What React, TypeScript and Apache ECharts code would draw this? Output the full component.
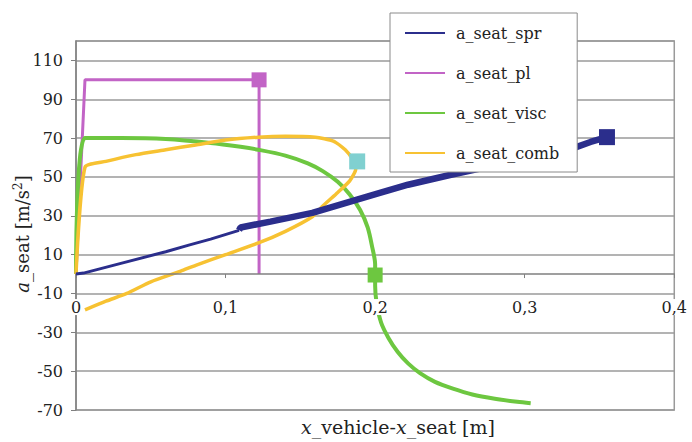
import React, { useEffect, useRef } from "react";
import * as echarts from "echarts";

const xTicks = [0, 0.1, 0.2, 0.3, 0.4];
const yTickLabels = [-70, -50, -30, -10, 10, 30, 50, 70, 90, 110];
const yMin = -70;
const yMax = 120;

const seriesNames = ["a_seat_spr", "a_seat_pl", "a_seat_visc", "a_seat_comb"];

const sprThin: [number, number][] = [
  [0, 0], [0.005, 0.5], [0.03, 5.5], [0.06, 11.5], [0.076, 15], [0.09, 18], [0.109, 22.5],
];
const sprThick: [number, number][] = [
  [0.109, 22.5], [0.11, 24], [0.13, 27], [0.158, 31.5], [0.18, 36.5], [0.202, 41.5],
  [0.222, 46], [0.25, 51], [0.28, 56], [0.31, 61], [0.333, 65], [0.344, 68], [0.355, 70.5],
];
const plData: [number, number][] = [
  [0, 0], [0.006, 100], [0.1224, 100], [0.1224, 0],
];
const viscData: [number, number][] = [
  [0, 0], [0.006, 70], [0.03, 70], [0.06, 69.5], [0.09, 67.5], [0.11, 65.5], [0.122, 64],
  [0.14, 61], [0.155, 57], [0.165, 53], [0.175, 47.5], [0.183, 41], [0.19, 33],
  [0.195, 24], [0.198, 14], [0.2, 5], [0.2, -1], [0.2, -6], [0.201, -15], [0.204, -25],
  [0.209, -33], [0.215, -40], [0.222, -46], [0.23, -51], [0.24, -55.5], [0.252, -59],
  [0.265, -62], [0.28, -64.2], [0.295, -65.8], [0.304, -66.5],
];
const combData: [number, number][] = [
  [0, 0], [0.006, 55], [0.02, 58], [0.04, 61.5], [0.06, 64], [0.08, 66.5], [0.1, 69],
  [0.122, 70.5], [0.14, 71], [0.16, 70.5], [0.172, 68.5], [0.18, 64], [0.185, 59],
  [0.187, 54], [0.183, 48], [0.175, 42], [0.165, 35], [0.158, 29.5], [0.14, 22],
  [0.122, 16], [0.1, 10], [0.08, 4.5], [0.07, 1.5], [0.05, -4], [0.034, -10],
  [0.02, -14], [0.006, -18.5],
];

const sprMarker: [number, number][] = [[0.355, 70.5]];
const plMarker: [number, number][] = [[0.1224, 100]];
const viscMarker: [number, number][] = [[0.2, -0.5]];
const combMarker: [number, number][] = [[0.188, 58]];

const colors = {
  spr: "#2B2E8C",
  pl: "#C264C6",
  visc: "#6DC740",
  comb: "#F7C232",
  combMark: "#80D0D0",
};

const FONT = "DejaVu Serif";

const GRID = { left: 76, right: 13, top: 41, bottom: 32 };
const H = 442;

export default function App() {
  const ref = useRef<HTMLDivElement>(null);
  useEffect(() => {
    if (!ref.current) return;
    const chart = echarts.init(ref.current, undefined, { renderer: "svg" });
    const gridH = H - GRID.top - GRID.bottom;
    const zeroOffset = -((0 - yMin) / (yMax - yMin)) * gridH;
    const markerSeries = (data: [number, number][], color: string, size: number) => ({
      type: "scatter",
      data,
      symbol: "rect",
      symbolSize: size,
      itemStyle: { color, opacity: 1 },
      z: 4,
      silent: true,
    });
    chart.setOption({
      animation: false,
      backgroundColor: "#fff",
      textStyle: { fontFamily: FONT },
      grid: {
        ...GRID,
        show: true,
        borderColor: "#9a9a9a",
        borderWidth: 1.5,
        backgroundColor: "transparent",
      },
      legend: {
        data: seriesNames,
        orient: "vertical",
        left: 390,
        top: 13,
        backgroundColor: "#fff",
        borderColor: "#8a8a8a",
        borderWidth: 1,
        padding: [11, 18, 10, 15],
        itemWidth: 40,
        itemHeight: 18,
        itemGap: 22,
        icon: "path://M0,8 L40,8 L40,10 L0,10 Z",
        textStyle: { fontFamily: FONT, fontSize: 16, color: "#222", lineHeight: 18, padding: [0, 0, 0, 6] },
        z: 10,
      },
      xAxis: {
        type: "value",
        min: xTicks[0],
        max: xTicks[xTicks.length - 1],
        interval: 0.1,
        z: 3,
        offset: zeroOffset,
        axisLine: { onZero: false, lineStyle: { color: "#808080", width: 1.5 } },
        axisTick: { show: true, length: 4, lineStyle: { color: "#808080" } },
        splitLine: { show: false },
        axisLabel: {
          margin: 25,
          fontFamily: FONT,
          fontSize: 16,
          color: "#222",
          backgroundColor: "#fff",
          padding: [0, 2],
          formatter: (v: number) => {
            const r = Math.round(v * 10) / 10;
            return xTicks.includes(r) ? String(r).replace(".", ",") : "";
          },
        },
      },
      yAxis: {
        type: "value",
        min: yMin,
        max: yMax,
        interval: 20,
        axisLine: { onZero: true, lineStyle: { color: "#808080", width: 1.5 } },
        axisTick: { show: true, length: 5, lineStyle: { color: "#808080" } },
        splitLine: { show: true, lineStyle: { color: "#9a9a9a", width: 1.5 } },
        axisLabel: {
          margin: 13,
          fontFamily: FONT,
          fontSize: 16,
          color: "#222",
          showMaxLabel: false,
          formatter: (v: number) => (yTickLabels.includes(v) ? String(v) : ""),
        },
      },
      series: [
        {
          name: "a_seat_spr",
          type: "line",
          data: sprThin,
          showSymbol: false,
          symbol: "none",
          lineStyle: { color: colors.spr, width: 3 },
          itemStyle: { color: colors.spr },
          z: 3,
        },
        {
          name: "a_seat_spr",
          type: "line",
          data: sprThick,
          showSymbol: false,
          symbol: "none",
          lineStyle: { color: colors.spr, width: 6.5 },
          itemStyle: { color: colors.spr },
          z: 3,
        },
        {
          name: "a_seat_pl",
          type: "line",
          data: plData,
          showSymbol: false,
          symbol: "none",
          lineStyle: { color: colors.pl, width: 3 },
          itemStyle: { color: colors.pl },
          z: 2,
        },
        {
          name: "a_seat_visc",
          type: "line",
          data: viscData,
          showSymbol: false,
          symbol: "none",
          smooth: 0.3,
          lineStyle: { color: colors.visc, width: 4 },
          itemStyle: { color: colors.visc },
          z: 2,
        },
        {
          name: "a_seat_comb",
          type: "line",
          data: combData,
          showSymbol: false,
          symbol: "none",
          smooth: 0.2,
          lineStyle: { color: colors.comb, width: 3.5 },
          itemStyle: { color: colors.comb },
          z: 2,
        },
        markerSeries(sprMarker, colors.spr, 16),
        markerSeries(plMarker, colors.pl, 15),
        markerSeries(viscMarker, colors.visc, 15),
        markerSeries(combMarker, colors.combMark, 16),
      ],
      graphic: [
        {
          type: "text",
          x: 22,
          y: 234,
          rotation: Math.PI / 2,
          style: {
            text: "{i|a}_seat [m/s{sup|2}]",
            align: "center",
            verticalAlign: "middle",
            fontFamily: FONT,
            fontSize: 18,
            fill: "#222",
            rich: {
              i: { fontFamily: FONT, fontSize: 18, fontStyle: "italic", fill: "#222" },
              sup: { fontFamily: FONT, fontSize: 12, fill: "#222", padding: [0, 0, 8, 0] },
            },
          },
        },
        {
          type: "text",
          x: 398,
          y: 427,
          style: {
            text: "{i|x}_vehicle-{i|x}_seat [m]",
            align: "center",
            verticalAlign: "middle",
            fontFamily: FONT,
            fontSize: 19,
            fill: "#222",
            rich: {
              i: { fontFamily: FONT, fontSize: 19, fontStyle: "italic", fill: "#222" },
            },
          },
        },
      ],
    });
    return () => chart.dispose();
  }, []);
  return <div ref={ref} style={{ width: 692, height: 442, position: "absolute", left: 0, top: 0 }} />;
}
